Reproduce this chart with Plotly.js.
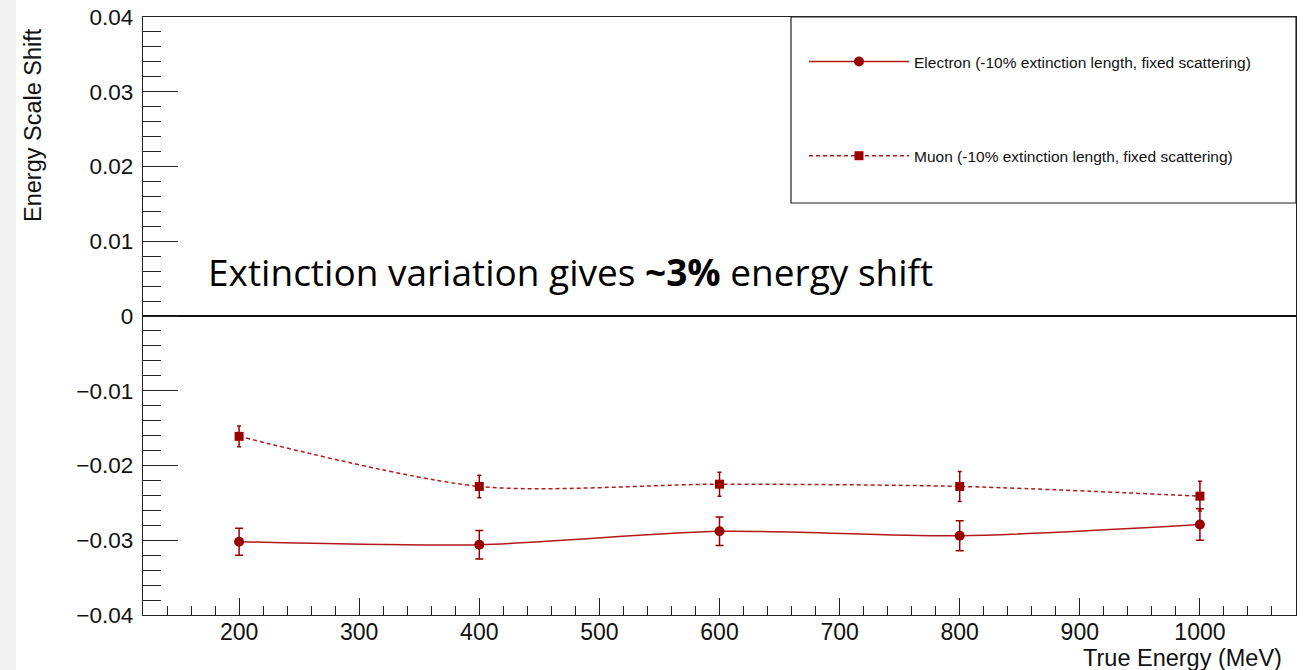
<!DOCTYPE html>
<html>
<head>
<meta charset="utf-8">
<script src="https://cdn.plot.ly/plotly-3.0.1.min.js"></script>
<style>
  html, body { margin: 0; padding: 0; background: #f2f2f2; width: 1310px; height: 670px; overflow: hidden; }
  #chart { position: absolute; left: 16px; top: 0; width: 1294px; height: 670px; background: #ffffff; }
</style>
</head>
<body>
<div id="chart"></div>
<script>
// True energy points (MeV)
const energies = [200, 400, 600, 800, 1000];

// Energy scale shift, electrons (-10% extinction length, fixed scattering)
const electronShift = [-0.0302, -0.0306, -0.0288, -0.0294, -0.0279];
const electronErr   = [0.0018, 0.0019, 0.0019, 0.0020, 0.0021];

// Energy scale shift, muons (-10% extinction length, fixed scattering)
const muonShift = [-0.0161, -0.0228, -0.0225, -0.0228, -0.0241];
const muonErr   = [0.0014, 0.0015, 0.0016, 0.0020, 0.0020];

const electronName = "Electron (-10% extinction length, fixed scattering)";
const muonName = "Muon (-10% extinction length, fixed scattering)";
const xTitle = "True Energy (MeV)";
const yTitle = "Energy Scale Shift";
const noteText = "Extinction variation gives <b>~3%</b> energy shift";

// page-pixel -> paper helpers (frame spans x 143..1296, y 17..615 on the page)
const FX0 = 143, FX1 = 1296, FY0 = 17, FY1 = 615;
const px = p => (p - FX0) / (FX1 - FX0);
const py = p => (FY1 - p) / (FY1 - FY0);

const dark = "#990000";
const lineCol = "#b21a1a";
const sans = "Liberation Sans, Arial, sans-serif";

const traces = [
  {
    x: energies, y: electronShift, name: electronName, type: "scatter", mode: "lines+markers",
    line: { color: lineCol, width: 1.5, shape: "spline", smoothing: 0.8 },
    marker: { color: dark, size: 10, symbol: "circle" },
    error_y: { type: "data", array: electronErr, visible: true, color: dark, thickness: 1.5, width: 4 },
    legendgroup: "e"
  },
  {
    x: energies, y: muonShift, name: muonName, type: "scatter", mode: "lines+markers",
    line: { color: lineCol, width: 1.5, dash: "4px,3px", shape: "spline", smoothing: 0.8 },
    marker: { color: dark, size: 9, symbol: "square" },
    error_y: { type: "data", array: muonErr, visible: true, color: dark, thickness: 1.5, width: 2 },
    legendgroup: "m"
  }
];

const layout = {
  width: 1294, height: 670,
  margin: { l: FX0 - 16, r: 1310 - FX1, t: FY0, b: 670 - FY1 },
  paper_bgcolor: "#ffffff", plot_bgcolor: "#ffffff",
  font: { family: sans, color: "#000000" },
  showlegend: true,
  legend: {
    x: px(804), xanchor: "left", y: py(45), yanchor: "top",
    bgcolor: "rgba(0,0,0,0)", borderwidth: 0,
    font: { family: sans, size: 15.5, color: "#111111" },
    tracegroupgap: 71, itemwidth: 100, traceorder: "grouped"
  },
  xaxis: {
    range: [120, 1080], tick0: 0, dtick: 100,
    ticks: "inside", ticklen: 17, tickwidth: 1, tickcolor: "#222222",
    minor: { dtick: 20, ticks: "inside", ticklen: 9, tickwidth: 1, tickcolor: "#222222", showgrid: false },
    showgrid: false, zeroline: false,
    showline: true, linecolor: "#222222", linewidth: 1.2, mirror: true,
    tickfont: { family: sans, size: 23, color: "#111111" },
    ticklabelstandoff: -4
  },
  yaxis: {
    range: [-0.04, 0.04], tick0: 0, dtick: 0.01,
    ticks: "inside", ticklen: 35, tickwidth: 1, tickcolor: "#222222",
    minor: { dtick: 0.002, ticks: "inside", ticklen: 18, tickwidth: 1, tickcolor: "#222222", showgrid: false },
    showgrid: false,
    zeroline: true, zerolinecolor: "#111111", zerolinewidth: 1.2,
    showline: true, linecolor: "#222222", linewidth: 1.2, mirror: true,
    tickfont: { family: sans, size: 22.5, color: "#111111" },
    ticklabelstandoff: 4
  },
  shapes: [
    { type: "rect", xref: "paper", yref: "paper",
      x0: px(791), x1: 1, y0: py(203), y1: 1,
      line: { color: "#222222", width: 1.2 }, fillcolor: "rgba(0,0,0,0)" }
  ],
  annotations: [
    { text: noteText, xref: "paper", yref: "paper", x: px(206), y: py(271),
      xanchor: "left", yanchor: "middle", showarrow: false,
      font: { family: "Open Sans, sans-serif", size: 37, color: "#000000" } },
    { text: xTitle, xref: "paper", yref: "paper", x: px(1284), y: py(658),
      xanchor: "right", yanchor: "middle", showarrow: false,
      font: { family: sans, size: 23.5, color: "#111111" } },
    { text: yTitle, xref: "paper", yref: "paper", x: px(33), y: py(26),
      xanchor: "center", yanchor: "top", textangle: -90, showarrow: false,
      font: { family: sans, size: 23.5, color: "#111111" } }
  ]
};

Plotly.newPlot("chart", traces, layout, { displayModeBar: false, staticPlot: true });
</script>
</body>
</html>
